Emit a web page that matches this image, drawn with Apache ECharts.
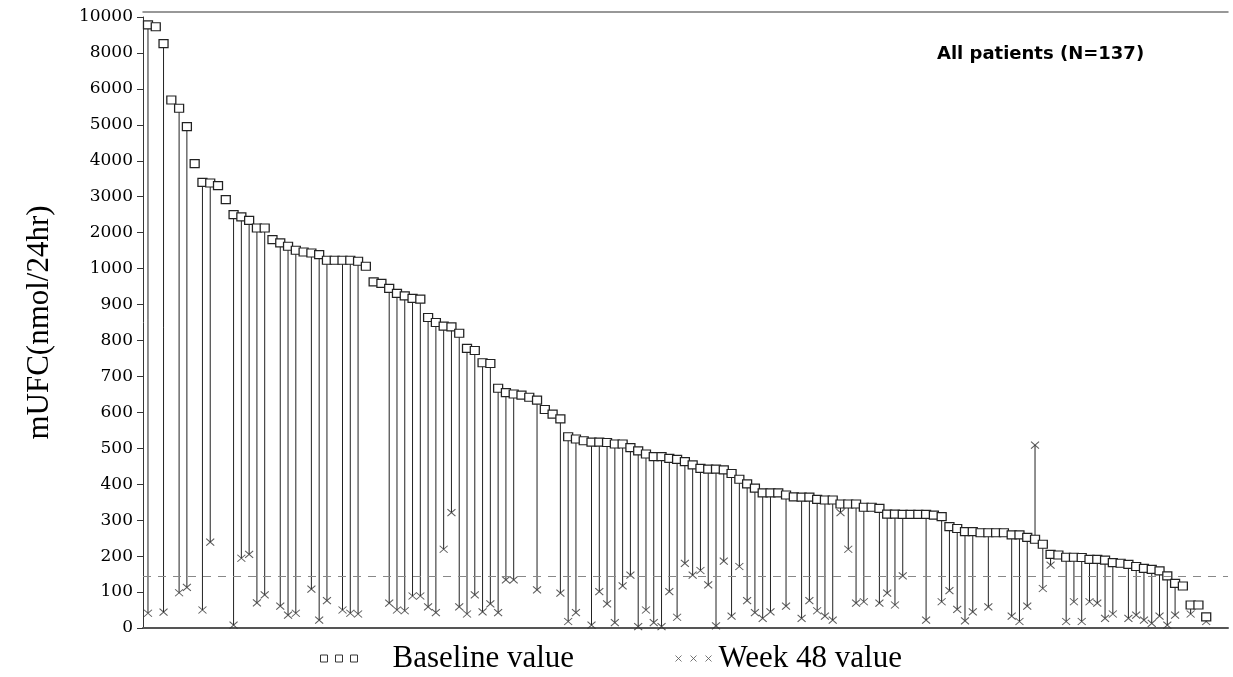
<!DOCTYPE html>
<html>
<head>
<meta charset="utf-8">
<script src="https://cdn.jsdelivr.net/npm/echarts@6/dist/echarts.min.js"></script>
<style>html,body{margin:0;padding:0;background:#fff;}#chart{width:1233px;height:677px;}</style>
</head>
<body>
<div id="chart"></div>
<script>
// Patient order (x position) 1..137
const patientCount = 137;
// Baseline mUFC (nmol/24hr), sorted descending
const baselineValues = [
 9560, 9460, 8520, 5690, 5460, 4950, 3920, 3400, 3380, 3310,
 2920, 2500, 2440, 2340, 2130, 2130, 1806, 1714, 1620, 1509,
 1463, 1435, 1389, 1231, 1231, 1231, 1231, 1203, 1064, 963,
 959, 945, 931, 924, 917, 915, 864, 850, 840, 838,
 820, 778, 772, 738, 736, 667, 655, 651, 648, 642,
 634, 608, 595, 582, 532, 526, 521, 517, 517, 516,
 512, 512, 502, 493, 484, 477, 477, 472, 469, 463,
 454, 444, 442, 442, 440, 430, 414, 401, 389, 376,
 376, 376, 370, 365, 364, 364, 358, 356, 356, 345,
 345, 345, 336, 336, 333, 317, 317, 316, 316, 316,
 316, 314, 310, 282, 277, 268, 268, 265, 265, 265,
 265, 259, 259, 252, 247, 233, 205, 203, 197, 197,
 196, 191, 191, 189, 182, 180, 177, 171, 166, 163,
 159, 145, 124, 117, 64, 64, 31
];
// Week 48 mUFC (null = no week 48 value)
const week48Values = [
 41, null, 44, null, 98, 113, null, 50, 239, null,
 null, 8, 194, 205, 70, 92, null, 61, 36, 41,
 null, 108, 22, 76, null, 50, 41, 39, null, null,
 null, 69, 50, 48, 89, 89, 59, 43, 219, 321,
 59, 39, 92, 45, 67, 43, 134, 134, null, null,
 106, null, null, 97, 18, 43, null, 8, 101, 67,
 15, 117, 147, 4, 50, 15, 4, 101, 30, 180,
 147, 160, 120, 6, 186, 33, 171, 76, 43, 27,
 45, null, 61, null, 27, 76, 48, 33, 22, 321,
 219, 69, 73, null, 69, 97, 64, 145, null, null,
 22, null, 73, 104, 52, 20, 45, null, 59, null,
 null, 33, 18, 61, 509, 110, 175, null, 18, 73,
 18, 73, 69, 27, 39, null, 27, 36, 22, 13,
 33, 8, 36, null, 39, null, 18
];
// Y-axis tick labels (piecewise scale)
const yTickLabels = ['0','100','200','300','400','500','600','700','800','900','1000',
                     '2000','3000','4000','5000','6000','8000','10000'];
const referenceLine = 145;

function tr(v) {
  if (v <= 1000) return v / 100;
  if (v <= 6000) return 10 + (v - 1000) / 1000;
  return 15 + (v - 6000) / 2000;
}

const baseData = [], wkData = [], segData = [];
for (let k = 0; k < patientCount; k++) {
  const i = k + 1;
  baseData.push([i, tr(baselineValues[k])]);
  if (week48Values[k] !== null) {
    wkData.push([i, tr(week48Values[k])]);
    segData.push([i, tr(baselineValues[k]), tr(week48Values[k])]);
  }
}

const chart = echarts.init(document.getElementById('chart'), null, {renderer: 'canvas'});
const serif = 'Liberation Serif';
chart.setOption({
  animation: false,
  backgroundColor: '#fff',
  title: {
    text: 'All patients (N=137)',
    left: 937, top: 45, padding: 0,
    textStyle: {fontFamily: 'DejaVu Sans', fontWeight: 'bold', fontSize: 18, color: '#000'}
  },
  legend: [
    {
      data: [{name: 'Baseline value', icon: 'path://M0,0h7v7h-7z M15,0h7v7h-7z M30,0h7v7h-7z',
              itemStyle: {color: '#fff', borderColor: '#333', borderWidth: 1}}],
      left: 320, top: 643, padding: 0, itemWidth: 37, itemHeight: 7,
      textStyle: {fontFamily: serif, fontSize: 31, color: '#000', padding: [0, 0, 0, 30]}
    },
    {
      data: [{name: 'Week 48 value', icon: 'path://M0,0L6,6M6,0L0,6 M15,0L21,6M21,0L15,6 M30,0L36,6M36,0L30,6',
              itemStyle: {color: 'rgba(0,0,0,0)', borderColor: '#555', borderWidth: 1}}],
      left: 675, top: 643, padding: 0, itemWidth: 36, itemHeight: 6,
      textStyle: {fontFamily: serif, fontSize: 31, color: '#000', padding: [0, 0, 0, 2]}
    }
  ],
  grid: {left: 143, right: 5, top: 17, bottom: 49, containLabel: false},
  xAxis: [
    {
      type: 'value', min: 0.36, max: 139.8, position: 'bottom', offset: 4,
      axisLine: {show: true, lineStyle: {color: '#555', width: 2}},
      axisTick: {show: false}, axisLabel: {show: false}, splitLine: {show: false}
    },
    {
      type: 'value', min: 0.36, max: 139.8, position: 'top', offset: 5,
      axisLine: {show: true, lineStyle: {color: '#777', width: 1.5}},
      axisTick: {show: false}, axisLabel: {show: false}, splitLine: {show: false}
    }
  ],
  yAxis: {
    type: 'value', min: 0, max: 17, interval: 1,
    name: 'mUFC(nmol/24hr)', nameLocation: 'middle', nameGap: 88, nameRotate: 90,
    nameTextStyle: {fontFamily: serif, fontSize: 31, color: '#000'},
    axisLine: {show: true, lineStyle: {color: '#333', width: 1}},
    axisTick: {show: true, length: 6, lineStyle: {color: '#333'}},
    axisLabel: {
      margin: 10, fontFamily: 'DejaVu Serif', fontSize: 17, color: '#000',
      formatter: function (v) { return yTickLabels[Math.round(v)] || ''; }
    },
    splitLine: {show: false}
  },
  series: [
    {
      type: 'custom', name: 'needles', z: 1, silent: true,
      encode: {x: 0, y: [1, 2]},
      data: segData,
      renderItem: function (params, api) {
        const p1 = api.coord([api.value(0), api.value(1)]);
        const p2 = api.coord([api.value(0), api.value(2)]);
        return {type: 'line', shape: {x1: p1[0], y1: p1[1], x2: p2[0], y2: p2[1]},
                style: {stroke: '#222', lineWidth: 1}};
      },
      markLine: {
        silent: true, symbol: 'none', label: {show: false},
        lineStyle: {type: [8, 7], color: '#888', width: 1},
        data: [{yAxis: tr(referenceLine)}]
      }
    },
    {
      type: 'scatter', name: 'Week 48 value', z: 3,
      symbol: 'path://M0,0L10,10M10,0L0,10', symbolSize: [8, 7],
      itemStyle: {color: 'rgba(0,0,0,0)', borderColor: '#333', borderWidth: 1},
      data: wkData
    },
    {
      type: 'scatter', name: 'Baseline value', z: 4,
      symbol: 'rect', symbolSize: [9, 8],
      itemStyle: {color: '#fff', borderColor: '#222', borderWidth: 1.2, opacity: 1},
      data: baseData
    }
  ]
});
</script>
</body>
</html>
